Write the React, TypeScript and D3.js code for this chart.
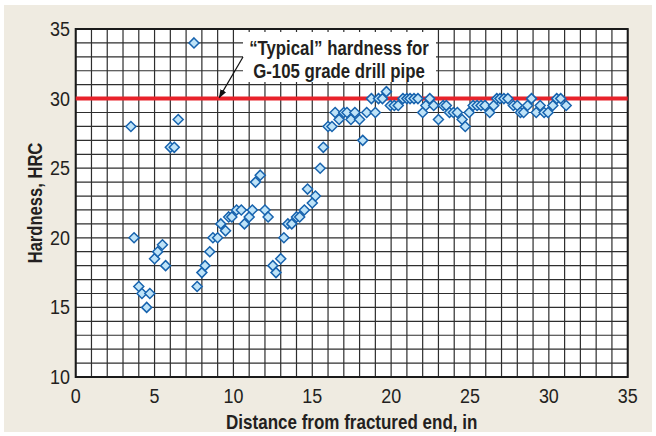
import React from "react";
import * as d3 from "d3";

const distance = [
  3.5, 3.7, 4, 4.2, 4.5, 4.7, 5, 5.2, 5.5, 5.7, 6, 6.25, 6.5, 7.5, 7.7, 8, 8.2, 8.5, 8.7, 9,
  9.2, 9.5, 9.7, 9.9, 10.2, 10.5, 10.7, 11, 11.2, 11.4, 11.7, 12, 12.2, 12.5, 12.7, 13, 13.2,
  13.45, 13.7, 14, 14.2, 14.5, 14.7, 15, 15.2, 15.5, 15.7, 16, 16.25, 16.45, 16.7, 17, 17.2,
  17.45, 17.7, 18, 18.2, 18.45, 18.75, 19, 19.2, 19.45, 19.7, 19.95, 20.2, 20.45, 20.75, 21,
  21.2, 21.45, 21.7, 22, 22.2, 22.45, 22.7, 23, 23.3, 23.5, 23.7, 23.95, 24.2, 24.5, 24.7,
  24.95, 25.2, 25.45, 25.7, 25.95, 26.25, 26.5, 26.7, 26.9, 27.15, 27.4, 27.75, 28, 28.2,
  28.4, 28.65, 28.9, 29.2, 29.45, 29.7, 29.95, 30.25, 30.5, 30.75, 31.1,
];
const hardness = [
  28, 20, 16.5, 16, 15, 16, 18.5, 19, 19.5, 18, 26.5, 26.5, 28.5, 34, 16.5, 17.5, 18, 19, 20, 20,
  21, 20.5, 21.5, 21.5, 22, 22, 21, 21.5, 22, 24, 24.5, 22, 21.5, 18, 17.5, 18.5, 20,
  21, 21, 21.5, 21.5, 22, 23.5, 22.5, 23, 25, 26.5, 28, 28, 29, 28.5, 29, 29,
  28.5, 29, 28.5, 27, 29, 30, 29, 30, 30, 30.5, 29.5, 29.5, 29.5, 30, 30,
  30, 30, 30, 29, 29.5, 30, 29.5, 28.5, 29.5, 29.5, 29, 29, 29, 28.5, 28,
  29, 29.5, 29.5, 29.5, 29.5, 29, 29.5, 30, 30, 30, 30, 29.5, 29.5, 29,
  29, 29.5, 30, 29, 29.5, 29, 29, 29.5, 30, 30, 29.5,
];
const xTicks = [0, 5, 10, 15, 20, 25, 30, 35];
const yTicks = [10, 15, 20, 25, 30, 35];
const typicalHardness = 30;
const annotationLines = ["\u201CTypical\u201D hardness for", "G-105 grade drill pipe"];
const xTitle = "Distance from fractured end, in";
const yTitle = "Hardness, HRC";

const W = 656;
const H = 436;
const FONT = "'Liberation Sans', Arial, sans-serif";
const INK = "#231f20";

type CTProps = {
  x: number;
  y: number;
  sx: number;
  size: number;
  bold?: boolean;
  anchor?: string;
  rotate?: number;
  dy?: string;
  children: React.ReactNode;
};

function CText({ x, y, sx, size, bold, anchor = "middle", rotate = 0, dy, children }: CTProps) {
  return (
    <text
      transform={`translate(${x},${y}) rotate(${rotate}) scale(${sx},1)`}
      textAnchor={anchor}
      dy={dy}
      fontFamily={FONT}
      fontWeight={bold ? "bold" : "normal"}
      fontSize={size}
      fill={INK}
    >
      {children}
    </text>
  );
}

export default function App() {
  const x = d3.scaleLinear().domain([0, 35]).range([75.7, 627.7]);
  const y = d3.scaleLinear().domain([10, 35]).range([377, 29]);
  const gridX = d3.range(0, 36, 1);
  const gridY = d3.range(10, 36, 1);
  const r = 5;
  const diamond = (cx: number, cy: number) =>
    `M${cx},${cy - r}L${cx + r},${cy}L${cx},${cy + r}L${cx - r},${cy}Z`;

  const boxX0 = 243, boxX1 = 436, boxY0 = 32, boxY1 = 82;
  const arrowStart: [number, number] = [243, 57];
  const arrowEnd: [number, number] = [x(9.1), y(typicalHardness) - 1];

  return (
    <div>
      <style>{`body{margin:0;background:#fff}`}</style>
      <svg width={W} height={H} style={{ display: "block" }}>
        <defs>
          <marker id="ah" viewBox="0 0 10 10" refX="9" refY="5" markerWidth="9" markerHeight="9" markerUnits="userSpaceOnUse" orient="auto">
            <path d="M0,1.5L10,5L0,8.5Z" fill="#111" />
          </marker>
        </defs>
        <rect x={0} y={0} width={W} height={H} fill="#fff" />
        <rect x={4} y={5} width={648} height={427} fill="#EFEBE1" />
        <rect x={x(0)} y={y(35)} width={x(35) - x(0)} height={y(10) - y(35)} fill="#fff" />
        {gridX.map((v) => (
          <line key={"gx" + v} x1={x(v)} x2={x(v)} y1={y(10)} y2={y(35)} stroke="#2e2e2e" strokeWidth={1.2} />
        ))}
        {gridY.map((v) => (
          <line key={"gy" + v} x1={x(0)} x2={x(35)} y1={y(v)} y2={y(v)} stroke="#2e2e2e" strokeWidth={1.2} />
        ))}
        <rect x={boxX0} y={boxY0} width={boxX1 - boxX0} height={boxY1 - boxY0} fill="#fff" />
        <rect x={x(0)} y={y(35)} width={x(35) - x(0)} height={y(10) - y(35)} fill="none" stroke="#1a1a1a" strokeWidth={2} />
        <line x1={x(0)} x2={x(35)} y1={y(typicalHardness)} y2={y(typicalHardness)} stroke="#E8222A" strokeWidth={4} />
        <line x1={arrowStart[0]} y1={arrowStart[1]} x2={arrowEnd[0]} y2={arrowEnd[1]} stroke="#111" strokeWidth={1.2} markerEnd="url(#ah)" />
        {annotationLines.map((t, i) => (
          <CText key={"an" + i} x={339} y={55 + i * 22.5} sx={0.8} size={21} bold>
            {t}
          </CText>
        ))}
        {distance.map((d, i) => (
          <path key={"p" + i} d={diamond(x(d), y(hardness[i]))} fill="#BEE3F8" stroke="#1763AE" strokeWidth={1.5} />
        ))}
        {yTicks.map((v) => (
          <CText key={"yt" + v} x={70} y={y(v)} dy="0.36em" sx={0.92} size={19.5} anchor="end">
            {v}
          </CText>
        ))}
        {xTicks.map((v) => (
          <CText key={"xt" + v} x={x(v)} y={403} sx={0.92} size={19.5}>
            {v}
          </CText>
        ))}
        <CText x={(x(0) + x(35)) / 2} y={429} sx={0.81} size={21} bold>
          {xTitle}
        </CText>
        <CText x={42} y={(y(10) + y(35)) / 2} sx={0.79} size={21} bold rotate={-90}>
          {yTitle}
        </CText>
      </svg>
    </div>
  );
}
